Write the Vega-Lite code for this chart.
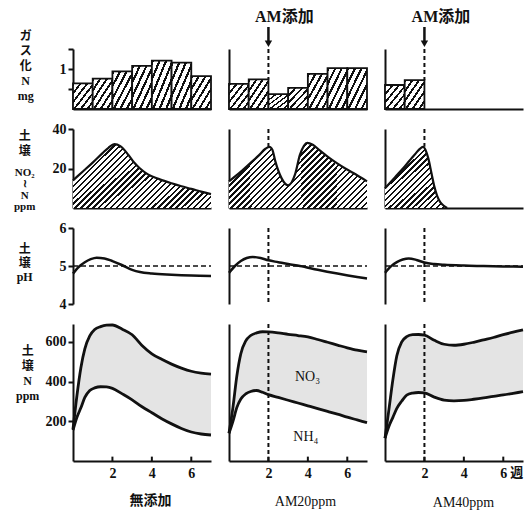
{
"$schema": "https://vega.github.io/schema/vega-lite/v6.json",
"background": "white",
"padding": {"left": 14, "top": 9, "right": 4, "bottom": 4},
"config": {
  "view": {"stroke": null},
  "axis": {"domainColor": "#111", "domainWidth": 2, "tickColor": "#111", "tickWidth": 2, "tickSize": 5, "labelColor": "#111", "labelFont": "Liberation Serif", "labelFontSize": 14, "labelFontWeight": "bold", "labelPadding": 2, "grid": false, "titleFont": "Liberation Serif, Noto Sans CJK JP", "titleColor": "#111"}
},
"datasets": {
  "gas": [
    {"c":1,"w0":0,"w1":1,"v":0.64},{"c":1,"w0":1,"w1":2,"v":0.76},{"c":1,"w0":2,"w1":3,"v":0.94},{"c":1,"w0":3,"w1":4,"v":1.08},{"c":1,"w0":4,"w1":5,"v":1.21},{"c":1,"w0":5,"w1":6,"v":1.16},{"c":1,"w0":6,"w1":7,"v":0.82},
    {"c":2,"w0":0,"w1":1,"v":0.63},{"c":2,"w0":1,"w1":2,"v":0.74},{"c":2,"w0":2,"w1":3,"v":0.37},{"c":2,"w0":3,"w1":4,"v":0.53},{"c":2,"w0":4,"w1":5,"v":0.88},{"c":2,"w0":5,"w1":6,"v":1.02},{"c":2,"w0":6,"w1":7,"v":1.02},
    {"c":3,"w0":0,"w1":1,"v":0.6},{"c":3,"w0":1,"w1":2,"v":0.72}
  ],
  "no2": [
    {"c":1,"wk":0,"v":14},{"c":1,"wk":0.5,"v":18.5},{"c":1,"wk":1,"v":23},{"c":1,"wk":1.5,"v":27.8},{"c":1,"wk":1.8,"v":30.5},{"c":1,"wk":2.1,"v":32.3},{"c":1,"wk":2.4,"v":31.3},{"c":1,"wk":2.8,"v":27},{"c":1,"wk":3.1,"v":23},{"c":1,"wk":3.4,"v":20},{"c":1,"wk":3.8,"v":17},{"c":1,"wk":4.4,"v":14.5},{"c":1,"wk":5,"v":12.5},{"c":1,"wk":5.5,"v":11},{"c":1,"wk":6,"v":9.7},{"c":1,"wk":6.5,"v":8.3},{"c":1,"wk":7,"v":7},
    {"c":2,"wk":0,"v":13.5},{"c":2,"wk":0.5,"v":17.5},{"c":2,"wk":1,"v":22},{"c":2,"wk":1.5,"v":26.5},{"c":2,"wk":1.85,"v":30},{"c":2,"wk":2.05,"v":31},{"c":2,"wk":2.2,"v":29.5},{"c":2,"wk":2.34,"v":24},{"c":2,"wk":2.67,"v":15},{"c":2,"wk":3.0,"v":11.5},{"c":2,"wk":3.35,"v":17},{"c":2,"wk":3.6,"v":27},{"c":2,"wk":3.8,"v":31.5},{"c":2,"wk":3.97,"v":33},{"c":2,"wk":4.25,"v":32},{"c":2,"wk":4.62,"v":29},{"c":2,"wk":5.0,"v":26},{"c":2,"wk":5.47,"v":22.7},{"c":2,"wk":5.9,"v":20},{"c":2,"wk":6.31,"v":17.7},{"c":2,"wk":7,"v":13.5},
    {"c":3,"wk":0,"v":10},{"c":3,"wk":0.5,"v":15.5},{"c":3,"wk":1,"v":21},{"c":3,"wk":1.5,"v":27},{"c":3,"wk":1.94,"v":31},{"c":3,"wk":2.05,"v":29.5},{"c":3,"wk":2.2,"v":25},{"c":3,"wk":2.35,"v":18},{"c":3,"wk":2.5,"v":11},{"c":3,"wk":2.65,"v":6},{"c":3,"wk":2.8,"v":3},{"c":3,"wk":3.0,"v":1},{"c":3,"wk":3.15,"v":0}
  ],
  "ph": [
    {"c":1,"wk":0,"v":4.8},{"c":1,"wk":0.3,"v":4.98},{"c":1,"wk":0.6,"v":5.1},{"c":1,"wk":0.9,"v":5.18},{"c":1,"wk":1.2,"v":5.22},{"c":1,"wk":1.6,"v":5.2},{"c":1,"wk":2,"v":5.13},{"c":1,"wk":2.5,"v":5.02},{"c":1,"wk":3,"v":4.9},{"c":1,"wk":3.4,"v":4.84},{"c":1,"wk":4,"v":4.8},{"c":1,"wk":5,"v":4.77},{"c":1,"wk":6,"v":4.75},{"c":1,"wk":7,"v":4.74},
    {"c":2,"wk":0,"v":4.82},{"c":2,"wk":0.3,"v":5.0},{"c":2,"wk":0.6,"v":5.13},{"c":2,"wk":0.9,"v":5.21},{"c":2,"wk":1.2,"v":5.24},{"c":2,"wk":1.6,"v":5.21},{"c":2,"wk":2,"v":5.15},{"c":2,"wk":2.5,"v":5.1},{"c":2,"wk":3,"v":5.05},{"c":2,"wk":3.6,"v":5.0},{"c":2,"wk":4.5,"v":4.9},{"c":2,"wk":5.5,"v":4.8},{"c":2,"wk":6.5,"v":4.71},{"c":2,"wk":7,"v":4.67},
    {"c":3,"wk":0,"v":4.82},{"c":3,"wk":0.3,"v":4.99},{"c":3,"wk":0.6,"v":5.1},{"c":3,"wk":0.9,"v":5.17},{"c":3,"wk":1.2,"v":5.2},{"c":3,"wk":1.6,"v":5.16},{"c":3,"wk":2,"v":5.09},{"c":3,"wk":2.5,"v":5.05},{"c":3,"wk":3,"v":5.03},{"c":3,"wk":4,"v":5.01},{"c":3,"wk":5,"v":5.0},{"c":3,"wk":6,"v":4.99},{"c":3,"wk":7,"v":4.98}
  ],
  "soil": [
    {"c":1,"wk":0,"up":160,"lo":155},{"c":1,"wk":0.2,"up":330,"lo":220},{"c":1,"wk":0.4,"up":470,"lo":268},{"c":1,"wk":0.6,"up":565,"lo":320},{"c":1,"wk":0.85,"up":630,"lo":355},{"c":1,"wk":1.1,"up":662,"lo":368},{"c":1,"wk":1.4,"up":677,"lo":374},{"c":1,"wk":1.7,"up":684,"lo":373},{"c":1,"wk":2,"up":685,"lo":366},{"c":1,"wk":2.5,"up":664,"lo":338},{"c":1,"wk":3,"up":636,"lo":308},{"c":1,"wk":3.5,"up":582,"lo":273},{"c":1,"wk":4,"up":540,"lo":243},{"c":1,"wk":4.5,"up":512,"lo":213},{"c":1,"wk":5,"up":488,"lo":187},{"c":1,"wk":5.5,"up":468,"lo":164},{"c":1,"wk":6,"up":452,"lo":146},{"c":1,"wk":6.5,"up":443,"lo":136},{"c":1,"wk":7,"up":438,"lo":131},
    {"c":2,"wk":0,"up":140,"lo":140},{"c":2,"wk":0.2,"up":270,"lo":200},{"c":2,"wk":0.4,"up":430,"lo":270},{"c":2,"wk":0.6,"up":540,"lo":312},{"c":2,"wk":0.85,"up":605,"lo":338},{"c":2,"wk":1.1,"up":632,"lo":350},{"c":2,"wk":1.4,"up":645,"lo":355},{"c":2,"wk":1.7,"up":651,"lo":346},{"c":2,"wk":2,"up":650,"lo":334},{"c":2,"wk":2.5,"up":645,"lo":320},{"c":2,"wk":3,"up":638,"lo":306},{"c":2,"wk":3.5,"up":632,"lo":292},{"c":2,"wk":4,"up":625,"lo":278},{"c":2,"wk":4.5,"up":612,"lo":264},{"c":2,"wk":5,"up":598,"lo":250},{"c":2,"wk":5.5,"up":584,"lo":236},{"c":2,"wk":6,"up":570,"lo":221},{"c":2,"wk":6.5,"up":558,"lo":207},{"c":2,"wk":7,"up":550,"lo":193},
    {"c":3,"wk":0,"up":115,"lo":115},{"c":3,"wk":0.2,"up":260,"lo":175},{"c":3,"wk":0.4,"up":410,"lo":220},{"c":3,"wk":0.6,"up":530,"lo":265},{"c":3,"wk":0.85,"up":600,"lo":302},{"c":3,"wk":1.1,"up":626,"lo":332},{"c":3,"wk":1.4,"up":636,"lo":342},{"c":3,"wk":1.7,"up":637,"lo":345},{"c":3,"wk":2,"up":634,"lo":343},{"c":3,"wk":2.5,"up":608,"lo":322},{"c":3,"wk":3,"up":588,"lo":307},{"c":3,"wk":3.5,"up":583,"lo":303},{"c":3,"wk":4,"up":588,"lo":305},{"c":3,"wk":4.5,"up":598,"lo":311},{"c":3,"wk":5,"up":610,"lo":318},{"c":3,"wk":5.5,"up":622,"lo":326},{"c":3,"wk":6,"up":636,"lo":333},{"c":3,"wk":6.5,"up":649,"lo":341},{"c":3,"wk":7,"up":660,"lo":349}
  ],
  "xticks": [{"t": 2}, {"t": 4}, {"t": 6}]
},
"columns": 3,
"spacing": {"row": 20, "column": 18},
"bounds": "flush",
"align": "each",
"concat": [
{"width": 138, "height": 60, "layer": [
  {"data": {"name": "gas"}, "transform": [{"filter": "datum.c == 1"}],
   "mark": {"type": "bar", "stroke": "#111", "strokeWidth": 1.8, "fill": {"gradient": "linear", "x1": 0, "y1": 0, "x2": 1, "y2": 1, "stops": [{"offset":0,"color":"#111"},{"offset":0.058,"color":"#111"},{"offset":0.058,"color":"#fff"},{"offset":0.1667,"color":"#fff"},{"offset":0.1667,"color":"#111"},{"offset":0.225,"color":"#111"},{"offset":0.225,"color":"#fff"},{"offset":0.3333,"color":"#fff"},{"offset":0.3333,"color":"#111"},{"offset":0.3917,"color":"#111"},{"offset":0.3917,"color":"#fff"},{"offset":0.5,"color":"#fff"},{"offset":0.5,"color":"#111"},{"offset":0.5583,"color":"#111"},{"offset":0.5583,"color":"#fff"},{"offset":0.6667,"color":"#fff"},{"offset":0.6667,"color":"#111"},{"offset":0.725,"color":"#111"},{"offset":0.725,"color":"#fff"},{"offset":0.8333,"color":"#fff"},{"offset":0.8333,"color":"#111"},{"offset":0.8917,"color":"#111"},{"offset":0.8917,"color":"#fff"},{"offset":1,"color":"#fff"}]}},
   "encoding": {
     "x": {"field": "w0", "type": "quantitative", "scale": {"domain": [0, 7], "nice": false, "zero": false}, "axis": {"labels": false, "ticks": false, "title": null}},
     "x2": {"field": "w1"},
     "y": {"field": "v", "type": "quantitative", "scale": {"domain": [0, 1.5], "nice": false}, "axis": {"values": [0.5, 1, 1.5], "tickCount": 10, "labelExpr": "datum.value == 1 ? '1' : ''", "labelOverlap": false, "title": null}},
     "y2": {"datum": 0}}},
  {"data": {"values": [{}]}, "mark": {"type": "text", "text": ["ガ", "ス", "化", "N", "mg"], "lineHeight": 15, "align": "center", "baseline": "top", "fontSize": 12, "fontWeight": "bold", "font": "Liberation Serif, Noto Sans CJK JP", "color": "#111"},
   "encoding": {"x": {"datum": -2.4}, "y": {"datum": 1.95}}}
]},
{"width": 138, "height": 60, "layer": [
  {"data": {"name": "gas"}, "transform": [{"filter": "datum.c == 2"}],
   "mark": {"type": "bar", "stroke": "#111", "strokeWidth": 1.8, "fill": {"gradient": "linear", "x1": 0, "y1": 0, "x2": 1, "y2": 1, "stops": [{"offset":0,"color":"#111"},{"offset":0.058,"color":"#111"},{"offset":0.058,"color":"#fff"},{"offset":0.1667,"color":"#fff"},{"offset":0.1667,"color":"#111"},{"offset":0.225,"color":"#111"},{"offset":0.225,"color":"#fff"},{"offset":0.3333,"color":"#fff"},{"offset":0.3333,"color":"#111"},{"offset":0.3917,"color":"#111"},{"offset":0.3917,"color":"#fff"},{"offset":0.5,"color":"#fff"},{"offset":0.5,"color":"#111"},{"offset":0.5583,"color":"#111"},{"offset":0.5583,"color":"#fff"},{"offset":0.6667,"color":"#fff"},{"offset":0.6667,"color":"#111"},{"offset":0.725,"color":"#111"},{"offset":0.725,"color":"#fff"},{"offset":0.8333,"color":"#fff"},{"offset":0.8333,"color":"#111"},{"offset":0.8917,"color":"#111"},{"offset":0.8917,"color":"#fff"},{"offset":1,"color":"#fff"}]}},
   "encoding": {
     "x": {"field": "w0", "type": "quantitative", "scale": {"domain": [0, 7], "nice": false, "zero": false}, "axis": {"labels": false, "ticks": false, "title": null}},
     "x2": {"field": "w1"},
     "y": {"field": "v", "type": "quantitative", "scale": {"domain": [0, 1.5], "nice": false}, "axis": {"labels": false, "ticks": false, "title": null}},
     "y2": {"datum": 0}}},
  {"data": {"values": [{}]}, "mark": {"type": "rule", "strokeDash": [4, 3], "strokeWidth": 2, "color": "#111"},
   "encoding": {"x": {"datum": 2}, "y": {"datum": 1.5}, "y2": {"datum": 0.74}}},
  {"data": {"values": [{}]}, "mark": {"type": "rule", "strokeWidth": 2.5, "color": "#111"},
   "encoding": {"x": {"datum": 2}, "y": {"datum": 2.05}, "y2": {"datum": 1.7}}},
  {"data": {"values": [{}]}, "mark": {"type": "point", "shape": "triangle-down", "filled": true, "size": 55, "color": "#111", "opacity": 1},
   "encoding": {"x": {"datum": 2}, "y": {"datum": 1.63}}},
  {"data": {"values": [{}]}, "mark": {"type": "text", "text": "AM添加", "align": "left", "baseline": "middle", "fontSize": 16, "fontWeight": "bold", "font": "Liberation Serif, Noto Sans CJK JP", "color": "#111"},
   "encoding": {"x": {"datum": 1.32}, "y": {"datum": 2.3}}}
]},
{"width": 138, "height": 60, "layer": [
  {"data": {"name": "gas"}, "transform": [{"filter": "datum.c == 3"}],
   "mark": {"type": "bar", "stroke": "#111", "strokeWidth": 1.8, "fill": {"gradient": "linear", "x1": 0, "y1": 0, "x2": 1, "y2": 1, "stops": [{"offset":0,"color":"#111"},{"offset":0.058,"color":"#111"},{"offset":0.058,"color":"#fff"},{"offset":0.1667,"color":"#fff"},{"offset":0.1667,"color":"#111"},{"offset":0.225,"color":"#111"},{"offset":0.225,"color":"#fff"},{"offset":0.3333,"color":"#fff"},{"offset":0.3333,"color":"#111"},{"offset":0.3917,"color":"#111"},{"offset":0.3917,"color":"#fff"},{"offset":0.5,"color":"#fff"},{"offset":0.5,"color":"#111"},{"offset":0.5583,"color":"#111"},{"offset":0.5583,"color":"#fff"},{"offset":0.6667,"color":"#fff"},{"offset":0.6667,"color":"#111"},{"offset":0.725,"color":"#111"},{"offset":0.725,"color":"#fff"},{"offset":0.8333,"color":"#fff"},{"offset":0.8333,"color":"#111"},{"offset":0.8917,"color":"#111"},{"offset":0.8917,"color":"#fff"},{"offset":1,"color":"#fff"}]}},
   "encoding": {
     "x": {"field": "w0", "type": "quantitative", "scale": {"domain": [0, 7], "nice": false, "zero": false}, "axis": {"labels": false, "ticks": false, "title": null}},
     "x2": {"field": "w1"},
     "y": {"field": "v", "type": "quantitative", "scale": {"domain": [0, 1.5], "nice": false}, "axis": {"labels": false, "ticks": false, "title": null}},
     "y2": {"datum": 0}}},
  {"data": {"values": [{}]}, "mark": {"type": "rule", "strokeDash": [4, 3], "strokeWidth": 2, "color": "#111"},
   "encoding": {"x": {"datum": 2}, "y": {"datum": 1.5}, "y2": {"datum": 0.72}}},
  {"data": {"values": [{}]}, "mark": {"type": "rule", "strokeWidth": 2.5, "color": "#111"},
   "encoding": {"x": {"datum": 2}, "y": {"datum": 2.05}, "y2": {"datum": 1.7}}},
  {"data": {"values": [{}]}, "mark": {"type": "point", "shape": "triangle-down", "filled": true, "size": 55, "color": "#111", "opacity": 1},
   "encoding": {"x": {"datum": 2}, "y": {"datum": 1.63}}},
  {"data": {"values": [{}]}, "mark": {"type": "text", "text": "AM添加", "align": "left", "baseline": "middle", "fontSize": 16, "fontWeight": "bold", "font": "Liberation Serif, Noto Sans CJK JP", "color": "#111"},
   "encoding": {"x": {"datum": 1.35}, "y": {"datum": 2.3}}}
]},
{"width": 138, "height": 79, "layer": [
  {"data": {"name": "no2"}, "transform": [{"filter": "datum.c == 1"}],
   "mark": {"type": "area", "interpolate": "monotone", "fill": {"gradient": "linear", "x1": 0, "y1": 0, "x2": 1.2, "y2": 0.56, "stops": [{"offset":0,"color":"#111"},{"offset":0.0118,"color":"#111"},{"offset":0.0118,"color":"#fff"},{"offset":0.0294,"color":"#fff"},{"offset":0.0294,"color":"#111"},{"offset":0.0412,"color":"#111"},{"offset":0.0412,"color":"#fff"},{"offset":0.0588,"color":"#fff"},{"offset":0.0588,"color":"#111"},{"offset":0.0706,"color":"#111"},{"offset":0.0706,"color":"#fff"},{"offset":0.0882,"color":"#fff"},{"offset":0.0882,"color":"#111"},{"offset":0.1,"color":"#111"},{"offset":0.1,"color":"#fff"},{"offset":0.1176,"color":"#fff"},{"offset":0.1176,"color":"#111"},{"offset":0.1294,"color":"#111"},{"offset":0.1294,"color":"#fff"},{"offset":0.1471,"color":"#fff"},{"offset":0.1471,"color":"#111"},{"offset":0.1589,"color":"#111"},{"offset":0.1589,"color":"#fff"},{"offset":0.1765,"color":"#fff"},{"offset":0.1765,"color":"#111"},{"offset":0.1883,"color":"#111"},{"offset":0.1883,"color":"#fff"},{"offset":0.2059,"color":"#fff"},{"offset":0.2059,"color":"#111"},{"offset":0.2177,"color":"#111"},{"offset":0.2177,"color":"#fff"},{"offset":0.2353,"color":"#fff"},{"offset":0.2353,"color":"#111"},{"offset":0.2471,"color":"#111"},{"offset":0.2471,"color":"#fff"},{"offset":0.2647,"color":"#fff"},{"offset":0.2647,"color":"#111"},{"offset":0.2765,"color":"#111"},{"offset":0.2765,"color":"#fff"},{"offset":0.2941,"color":"#fff"},{"offset":0.2941,"color":"#111"},{"offset":0.3059,"color":"#111"},{"offset":0.3059,"color":"#fff"},{"offset":0.3235,"color":"#fff"},{"offset":0.3235,"color":"#111"},{"offset":0.3353,"color":"#111"},{"offset":0.3353,"color":"#fff"},{"offset":0.3529,"color":"#fff"},{"offset":0.3529,"color":"#111"},{"offset":0.3647,"color":"#111"},{"offset":0.3647,"color":"#fff"},{"offset":0.3824,"color":"#fff"},{"offset":0.3824,"color":"#111"},{"offset":0.3942,"color":"#111"},{"offset":0.3942,"color":"#fff"},{"offset":0.4118,"color":"#fff"},{"offset":0.4118,"color":"#111"},{"offset":0.4236,"color":"#111"},{"offset":0.4236,"color":"#fff"},{"offset":0.4412,"color":"#fff"},{"offset":0.4412,"color":"#111"},{"offset":0.453,"color":"#111"},{"offset":0.453,"color":"#fff"},{"offset":0.4706,"color":"#fff"},{"offset":0.4706,"color":"#111"},{"offset":0.4824,"color":"#111"},{"offset":0.4824,"color":"#fff"},{"offset":0.5,"color":"#fff"},{"offset":0.5,"color":"#111"},{"offset":0.5118,"color":"#111"},{"offset":0.5118,"color":"#fff"},{"offset":0.5294,"color":"#fff"},{"offset":0.5294,"color":"#111"},{"offset":0.5412,"color":"#111"},{"offset":0.5412,"color":"#fff"},{"offset":0.5588,"color":"#fff"},{"offset":0.5588,"color":"#111"},{"offset":0.5706,"color":"#111"},{"offset":0.5706,"color":"#fff"},{"offset":0.5882,"color":"#fff"},{"offset":0.5882,"color":"#111"},{"offset":0.6,"color":"#111"},{"offset":0.6,"color":"#fff"},{"offset":0.6176,"color":"#fff"},{"offset":0.6176,"color":"#111"},{"offset":0.6294,"color":"#111"},{"offset":0.6294,"color":"#fff"},{"offset":0.6471,"color":"#fff"},{"offset":0.6471,"color":"#111"},{"offset":0.6589,"color":"#111"},{"offset":0.6589,"color":"#fff"},{"offset":0.6765,"color":"#fff"},{"offset":0.6765,"color":"#111"},{"offset":0.6883,"color":"#111"},{"offset":0.6883,"color":"#fff"},{"offset":0.7059,"color":"#fff"},{"offset":0.7059,"color":"#111"},{"offset":0.7177,"color":"#111"},{"offset":0.7177,"color":"#fff"},{"offset":0.7353,"color":"#fff"},{"offset":0.7353,"color":"#111"},{"offset":0.7471,"color":"#111"},{"offset":0.7471,"color":"#fff"},{"offset":0.7647,"color":"#fff"},{"offset":0.7647,"color":"#111"},{"offset":0.7765,"color":"#111"},{"offset":0.7765,"color":"#fff"},{"offset":0.7941,"color":"#fff"},{"offset":0.7941,"color":"#111"},{"offset":0.8059,"color":"#111"},{"offset":0.8059,"color":"#fff"},{"offset":0.8235,"color":"#fff"},{"offset":0.8235,"color":"#111"},{"offset":0.8353,"color":"#111"},{"offset":0.8353,"color":"#fff"},{"offset":0.8529,"color":"#fff"},{"offset":0.8529,"color":"#111"},{"offset":0.8647,"color":"#111"},{"offset":0.8647,"color":"#fff"},{"offset":0.8824,"color":"#fff"},{"offset":0.8824,"color":"#111"},{"offset":0.8942,"color":"#111"},{"offset":0.8942,"color":"#fff"},{"offset":0.9118,"color":"#fff"},{"offset":0.9118,"color":"#111"},{"offset":0.9236,"color":"#111"},{"offset":0.9236,"color":"#fff"},{"offset":0.9412,"color":"#fff"},{"offset":0.9412,"color":"#111"},{"offset":0.953,"color":"#111"},{"offset":0.953,"color":"#fff"},{"offset":0.9706,"color":"#fff"},{"offset":0.9706,"color":"#111"},{"offset":0.9824,"color":"#111"},{"offset":0.9824,"color":"#fff"},{"offset":1,"color":"#fff"}]}},
   "encoding": {
     "x": {"field": "wk", "type": "quantitative", "scale": {"domain": [0, 7], "nice": false, "zero": false}, "axis": {"labels": false, "ticks": false, "title": null}},
     "y": {"field": "v", "type": "quantitative", "scale": {"domain": [0, 40], "nice": false}, "axis": {"values": [20, 40], "format": "d", "labelOverlap": false, "title": null}}}},
  {"data": {"name": "no2"}, "transform": [{"filter": "datum.c == 1"}],
   "mark": {"type": "line", "interpolate": "monotone", "color": "#111", "strokeWidth": 2.2},
   "encoding": {"x": {"field": "wk", "type": "quantitative"}, "y": {"field": "v", "type": "quantitative"}}},
  {"data": {"values": [{}]}, "mark": {"type": "text", "text": ["土", "壌"], "lineHeight": 15, "align": "center", "baseline": "top", "fontSize": 12, "fontWeight": "bold", "font": "Liberation Serif, Noto Sans CJK JP", "color": "#111"},
   "encoding": {"x": {"datum": -2.45}, "y": {"datum": 39}}},
  {"data": {"values": [{}]}, "mark": {"type": "text", "text": ["NO₂", "≀", "N", "ppm"], "lineHeight": 11.5, "align": "center", "baseline": "top", "fontSize": 11, "fontWeight": "bold", "font": "Liberation Serif, Noto Sans CJK JP", "color": "#111"},
   "encoding": {"x": {"datum": -2.45}, "y": {"datum": 21}}}
]},
{"width": 138, "height": 79, "layer": [
  {"data": {"name": "no2"}, "transform": [{"filter": "datum.c == 2"}],
   "mark": {"type": "area", "interpolate": "monotone", "fill": {"gradient": "linear", "x1": 0, "y1": 0, "x2": 1.2, "y2": 0.56, "stops": [{"offset":0,"color":"#111"},{"offset":0.0118,"color":"#111"},{"offset":0.0118,"color":"#fff"},{"offset":0.0294,"color":"#fff"},{"offset":0.0294,"color":"#111"},{"offset":0.0412,"color":"#111"},{"offset":0.0412,"color":"#fff"},{"offset":0.0588,"color":"#fff"},{"offset":0.0588,"color":"#111"},{"offset":0.0706,"color":"#111"},{"offset":0.0706,"color":"#fff"},{"offset":0.0882,"color":"#fff"},{"offset":0.0882,"color":"#111"},{"offset":0.1,"color":"#111"},{"offset":0.1,"color":"#fff"},{"offset":0.1176,"color":"#fff"},{"offset":0.1176,"color":"#111"},{"offset":0.1294,"color":"#111"},{"offset":0.1294,"color":"#fff"},{"offset":0.1471,"color":"#fff"},{"offset":0.1471,"color":"#111"},{"offset":0.1589,"color":"#111"},{"offset":0.1589,"color":"#fff"},{"offset":0.1765,"color":"#fff"},{"offset":0.1765,"color":"#111"},{"offset":0.1883,"color":"#111"},{"offset":0.1883,"color":"#fff"},{"offset":0.2059,"color":"#fff"},{"offset":0.2059,"color":"#111"},{"offset":0.2177,"color":"#111"},{"offset":0.2177,"color":"#fff"},{"offset":0.2353,"color":"#fff"},{"offset":0.2353,"color":"#111"},{"offset":0.2471,"color":"#111"},{"offset":0.2471,"color":"#fff"},{"offset":0.2647,"color":"#fff"},{"offset":0.2647,"color":"#111"},{"offset":0.2765,"color":"#111"},{"offset":0.2765,"color":"#fff"},{"offset":0.2941,"color":"#fff"},{"offset":0.2941,"color":"#111"},{"offset":0.3059,"color":"#111"},{"offset":0.3059,"color":"#fff"},{"offset":0.3235,"color":"#fff"},{"offset":0.3235,"color":"#111"},{"offset":0.3353,"color":"#111"},{"offset":0.3353,"color":"#fff"},{"offset":0.3529,"color":"#fff"},{"offset":0.3529,"color":"#111"},{"offset":0.3647,"color":"#111"},{"offset":0.3647,"color":"#fff"},{"offset":0.3824,"color":"#fff"},{"offset":0.3824,"color":"#111"},{"offset":0.3942,"color":"#111"},{"offset":0.3942,"color":"#fff"},{"offset":0.4118,"color":"#fff"},{"offset":0.4118,"color":"#111"},{"offset":0.4236,"color":"#111"},{"offset":0.4236,"color":"#fff"},{"offset":0.4412,"color":"#fff"},{"offset":0.4412,"color":"#111"},{"offset":0.453,"color":"#111"},{"offset":0.453,"color":"#fff"},{"offset":0.4706,"color":"#fff"},{"offset":0.4706,"color":"#111"},{"offset":0.4824,"color":"#111"},{"offset":0.4824,"color":"#fff"},{"offset":0.5,"color":"#fff"},{"offset":0.5,"color":"#111"},{"offset":0.5118,"color":"#111"},{"offset":0.5118,"color":"#fff"},{"offset":0.5294,"color":"#fff"},{"offset":0.5294,"color":"#111"},{"offset":0.5412,"color":"#111"},{"offset":0.5412,"color":"#fff"},{"offset":0.5588,"color":"#fff"},{"offset":0.5588,"color":"#111"},{"offset":0.5706,"color":"#111"},{"offset":0.5706,"color":"#fff"},{"offset":0.5882,"color":"#fff"},{"offset":0.5882,"color":"#111"},{"offset":0.6,"color":"#111"},{"offset":0.6,"color":"#fff"},{"offset":0.6176,"color":"#fff"},{"offset":0.6176,"color":"#111"},{"offset":0.6294,"color":"#111"},{"offset":0.6294,"color":"#fff"},{"offset":0.6471,"color":"#fff"},{"offset":0.6471,"color":"#111"},{"offset":0.6589,"color":"#111"},{"offset":0.6589,"color":"#fff"},{"offset":0.6765,"color":"#fff"},{"offset":0.6765,"color":"#111"},{"offset":0.6883,"color":"#111"},{"offset":0.6883,"color":"#fff"},{"offset":0.7059,"color":"#fff"},{"offset":0.7059,"color":"#111"},{"offset":0.7177,"color":"#111"},{"offset":0.7177,"color":"#fff"},{"offset":0.7353,"color":"#fff"},{"offset":0.7353,"color":"#111"},{"offset":0.7471,"color":"#111"},{"offset":0.7471,"color":"#fff"},{"offset":0.7647,"color":"#fff"},{"offset":0.7647,"color":"#111"},{"offset":0.7765,"color":"#111"},{"offset":0.7765,"color":"#fff"},{"offset":0.7941,"color":"#fff"},{"offset":0.7941,"color":"#111"},{"offset":0.8059,"color":"#111"},{"offset":0.8059,"color":"#fff"},{"offset":0.8235,"color":"#fff"},{"offset":0.8235,"color":"#111"},{"offset":0.8353,"color":"#111"},{"offset":0.8353,"color":"#fff"},{"offset":0.8529,"color":"#fff"},{"offset":0.8529,"color":"#111"},{"offset":0.8647,"color":"#111"},{"offset":0.8647,"color":"#fff"},{"offset":0.8824,"color":"#fff"},{"offset":0.8824,"color":"#111"},{"offset":0.8942,"color":"#111"},{"offset":0.8942,"color":"#fff"},{"offset":0.9118,"color":"#fff"},{"offset":0.9118,"color":"#111"},{"offset":0.9236,"color":"#111"},{"offset":0.9236,"color":"#fff"},{"offset":0.9412,"color":"#fff"},{"offset":0.9412,"color":"#111"},{"offset":0.953,"color":"#111"},{"offset":0.953,"color":"#fff"},{"offset":0.9706,"color":"#fff"},{"offset":0.9706,"color":"#111"},{"offset":0.9824,"color":"#111"},{"offset":0.9824,"color":"#fff"},{"offset":1,"color":"#fff"}]}},
   "encoding": {
     "x": {"field": "wk", "type": "quantitative", "scale": {"domain": [0, 7], "nice": false, "zero": false}, "axis": {"labels": false, "ticks": false, "title": null}},
     "y": {"field": "v", "type": "quantitative", "scale": {"domain": [0, 40], "nice": false}, "axis": {"labels": false, "ticks": false, "title": null}}}},
  {"data": {"name": "no2"}, "transform": [{"filter": "datum.c == 2"}],
   "mark": {"type": "line", "interpolate": "monotone", "color": "#111", "strokeWidth": 2.2},
   "encoding": {"x": {"field": "wk", "type": "quantitative"}, "y": {"field": "v", "type": "quantitative"}}},
  {"data": {"values": [{}]}, "mark": {"type": "rule", "strokeDash": [4, 3], "strokeWidth": 2, "color": "#111"},
   "encoding": {"x": {"datum": 2}, "y": {"datum": 40}, "y2": {"datum": 31}}}
]},
{"width": 138, "height": 79, "layer": [
  {"data": {"name": "no2"}, "transform": [{"filter": "datum.c == 3"}],
   "mark": {"type": "area", "interpolate": "monotone", "fill": {"gradient": "linear", "x1": 0, "y1": 0, "x2": 1, "y2": 1, "stops": [{"offset":0,"color":"#111"},{"offset":0.019,"color":"#111"},{"offset":0.019,"color":"#fff"},{"offset":0.0476,"color":"#fff"},{"offset":0.0476,"color":"#111"},{"offset":0.0666,"color":"#111"},{"offset":0.0666,"color":"#fff"},{"offset":0.0952,"color":"#fff"},{"offset":0.0952,"color":"#111"},{"offset":0.1142,"color":"#111"},{"offset":0.1142,"color":"#fff"},{"offset":0.1429,"color":"#fff"},{"offset":0.1429,"color":"#111"},{"offset":0.1619,"color":"#111"},{"offset":0.1619,"color":"#fff"},{"offset":0.1905,"color":"#fff"},{"offset":0.1905,"color":"#111"},{"offset":0.2095,"color":"#111"},{"offset":0.2095,"color":"#fff"},{"offset":0.2381,"color":"#fff"},{"offset":0.2381,"color":"#111"},{"offset":0.2571,"color":"#111"},{"offset":0.2571,"color":"#fff"},{"offset":0.2857,"color":"#fff"},{"offset":0.2857,"color":"#111"},{"offset":0.3047,"color":"#111"},{"offset":0.3047,"color":"#fff"},{"offset":0.3333,"color":"#fff"},{"offset":0.3333,"color":"#111"},{"offset":0.3523,"color":"#111"},{"offset":0.3523,"color":"#fff"},{"offset":0.381,"color":"#fff"},{"offset":0.381,"color":"#111"},{"offset":0.4,"color":"#111"},{"offset":0.4,"color":"#fff"},{"offset":0.4286,"color":"#fff"},{"offset":0.4286,"color":"#111"},{"offset":0.4476,"color":"#111"},{"offset":0.4476,"color":"#fff"},{"offset":0.4762,"color":"#fff"},{"offset":0.4762,"color":"#111"},{"offset":0.4952,"color":"#111"},{"offset":0.4952,"color":"#fff"},{"offset":0.5238,"color":"#fff"},{"offset":0.5238,"color":"#111"},{"offset":0.5428,"color":"#111"},{"offset":0.5428,"color":"#fff"},{"offset":0.5714,"color":"#fff"},{"offset":0.5714,"color":"#111"},{"offset":0.5904,"color":"#111"},{"offset":0.5904,"color":"#fff"},{"offset":0.619,"color":"#fff"},{"offset":0.619,"color":"#111"},{"offset":0.638,"color":"#111"},{"offset":0.638,"color":"#fff"},{"offset":0.6667,"color":"#fff"},{"offset":0.6667,"color":"#111"},{"offset":0.6857,"color":"#111"},{"offset":0.6857,"color":"#fff"},{"offset":0.7143,"color":"#fff"},{"offset":0.7143,"color":"#111"},{"offset":0.7333,"color":"#111"},{"offset":0.7333,"color":"#fff"},{"offset":0.7619,"color":"#fff"},{"offset":0.7619,"color":"#111"},{"offset":0.7809,"color":"#111"},{"offset":0.7809,"color":"#fff"},{"offset":0.8095,"color":"#fff"},{"offset":0.8095,"color":"#111"},{"offset":0.8285,"color":"#111"},{"offset":0.8285,"color":"#fff"},{"offset":0.8571,"color":"#fff"},{"offset":0.8571,"color":"#111"},{"offset":0.8761,"color":"#111"},{"offset":0.8761,"color":"#fff"},{"offset":0.9048,"color":"#fff"},{"offset":0.9048,"color":"#111"},{"offset":0.9238,"color":"#111"},{"offset":0.9238,"color":"#fff"},{"offset":0.9524,"color":"#fff"},{"offset":0.9524,"color":"#111"},{"offset":0.9714,"color":"#111"},{"offset":0.9714,"color":"#fff"},{"offset":1,"color":"#fff"}]}},
   "encoding": {
     "x": {"field": "wk", "type": "quantitative", "scale": {"domain": [0, 7], "nice": false, "zero": false}, "axis": {"labels": false, "ticks": false, "title": null}},
     "y": {"field": "v", "type": "quantitative", "scale": {"domain": [0, 40], "nice": false}, "axis": {"labels": false, "ticks": false, "title": null}}}},
  {"data": {"name": "no2"}, "transform": [{"filter": "datum.c == 3"}],
   "mark": {"type": "line", "interpolate": "monotone", "color": "#111", "strokeWidth": 2.2},
   "encoding": {"x": {"field": "wk", "type": "quantitative"}, "y": {"field": "v", "type": "quantitative"}}},
  {"data": {"values": [{}]}, "mark": {"type": "rule", "strokeDash": [4, 3], "strokeWidth": 2, "color": "#111"},
   "encoding": {"x": {"datum": 2}, "y": {"datum": 40}, "y2": {"datum": 31}}}
]},
{"width": 138, "height": 76, "layer": [
  {"data": {"name": "ph"}, "transform": [{"filter": "datum.c == 1"}],
   "mark": {"type": "line", "interpolate": "monotone", "color": "#111", "strokeWidth": 2.5},
   "encoding": {
     "x": {"field": "wk", "type": "quantitative", "scale": {"domain": [0, 7], "nice": false, "zero": false}, "axis": null},
     "y": {"field": "v", "type": "quantitative", "scale": {"domain": [4, 6], "nice": false, "zero": false}, "axis": {"values": [4, 5, 6], "tickCount": 10, "labelExpr": "'' + round(datum.value)", "labelOverlap": false, "title": null}}}},
  {"data": {"values": [{}]}, "mark": {"type": "rule", "strokeDash": [5, 3], "strokeWidth": 1.5, "color": "#111"},
   "encoding": {"x": {"datum": 0}, "x2": {"datum": 7}, "y": {"datum": 5}}},
  {"data": {"values": [{}]}, "mark": {"type": "text", "text": ["土", "壌", "pH"], "lineHeight": 14, "align": "center", "baseline": "top", "fontSize": 12, "fontWeight": "bold", "font": "Liberation Serif, Noto Sans CJK JP", "color": "#111"},
   "encoding": {"x": {"datum": -2.45}, "y": {"datum": 5.58}}}
]},
{"width": 138, "height": 76, "layer": [
  {"data": {"name": "ph"}, "transform": [{"filter": "datum.c == 2"}],
   "mark": {"type": "line", "interpolate": "monotone", "color": "#111", "strokeWidth": 2.5},
   "encoding": {
     "x": {"field": "wk", "type": "quantitative", "scale": {"domain": [0, 7], "nice": false, "zero": false}, "axis": null},
     "y": {"field": "v", "type": "quantitative", "scale": {"domain": [4, 6], "nice": false, "zero": false}, "axis": {"labels": false, "ticks": false, "title": null}}}},
  {"data": {"values": [{}]}, "mark": {"type": "rule", "strokeDash": [5, 3], "strokeWidth": 1.5, "color": "#111"},
   "encoding": {"x": {"datum": 0}, "x2": {"datum": 7}, "y": {"datum": 5}}},
  {"data": {"values": [{}]}, "mark": {"type": "rule", "strokeDash": [4, 3], "strokeWidth": 2, "color": "#111"},
   "encoding": {"x": {"datum": 2}, "y": {"datum": 6}, "y2": {"datum": 4}}}
]},
{"width": 138, "height": 76, "layer": [
  {"data": {"name": "ph"}, "transform": [{"filter": "datum.c == 3"}],
   "mark": {"type": "line", "interpolate": "monotone", "color": "#111", "strokeWidth": 2.5},
   "encoding": {
     "x": {"field": "wk", "type": "quantitative", "scale": {"domain": [0, 7], "nice": false, "zero": false}, "axis": null},
     "y": {"field": "v", "type": "quantitative", "scale": {"domain": [4, 6], "nice": false, "zero": false}, "axis": {"labels": false, "ticks": false, "title": null}}}},
  {"data": {"values": [{}]}, "mark": {"type": "rule", "strokeDash": [5, 3], "strokeWidth": 1.5, "color": "#111"},
   "encoding": {"x": {"datum": 0}, "x2": {"datum": 7}, "y": {"datum": 5}}},
  {"data": {"values": [{}]}, "mark": {"type": "rule", "strokeDash": [4, 3], "strokeWidth": 2, "color": "#111"},
   "encoding": {"x": {"datum": 2}, "y": {"datum": 6}, "y2": {"datum": 4}}}
]},
{"width": 138, "height": 137, "layer": [
  {"data": {"name": "soil"}, "transform": [{"filter": "datum.c == 1"}],
   "mark": {"type": "area", "interpolate": "monotone", "color": "#e4e4e4"},
   "encoding": {
     "x": {"field": "wk", "type": "quantitative", "scale": {"domain": [0, 7], "nice": false, "zero": false}, "axis": {"values": [2, 4, 6], "format": "d", "ticks": false, "labelPadding": 5, "labelBaseline": "top", "title": "無添加", "titleFontSize": 14, "titleFontWeight": "bold", "titleX": 77, "titleY": 39, "titleAlign": "center", "titleBaseline": "middle"}},
     "y": {"field": "lo", "type": "quantitative", "scale": {"domain": [0, 690], "nice": false}, "axis": {"values": [200, 400, 600], "tickCount": 10, "format": "d", "labelOverlap": false, "title": null}},
     "y2": {"field": "up"}}},
  {"data": {"name": "xticks"}, "mark": {"type": "rule", "strokeWidth": 2, "color": "#111"},
   "encoding": {"x": {"field": "t", "type": "quantitative"}, "y": {"datum": 0}, "y2": {"datum": 22}}},
  {"data": {"name": "soil"}, "transform": [{"filter": "datum.c == 1"}],
   "mark": {"type": "line", "interpolate": "monotone", "color": "#111", "strokeWidth": 2.8},
   "encoding": {"x": {"field": "wk", "type": "quantitative"}, "y": {"field": "up", "type": "quantitative"}}},
  {"data": {"name": "soil"}, "transform": [{"filter": "datum.c == 1"}],
   "mark": {"type": "line", "interpolate": "monotone", "color": "#111", "strokeWidth": 2.8},
   "encoding": {"x": {"field": "wk", "type": "quantitative"}, "y": {"field": "lo", "type": "quantitative"}}},
  {"data": {"values": [{}]}, "mark": {"type": "text", "text": ["土", "壌", "N", "ppm"], "lineHeight": 15, "align": "center", "baseline": "top", "fontSize": 12, "fontWeight": "bold", "font": "Liberation Serif, Noto Sans CJK JP", "color": "#111"},
   "encoding": {"x": {"datum": -2.3}, "y": {"datum": 579}}}
]},
{"width": 138, "height": 137, "layer": [
  {"data": {"name": "soil"}, "transform": [{"filter": "datum.c == 2"}],
   "mark": {"type": "area", "interpolate": "monotone", "color": "#e4e4e4"},
   "encoding": {
     "x": {"field": "wk", "type": "quantitative", "scale": {"domain": [0, 7], "nice": false, "zero": false}, "axis": {"values": [2, 4, 6], "format": "d", "ticks": false, "labelPadding": 5, "labelBaseline": "top", "title": "AM20ppm", "titleFontSize": 14, "titleFontWeight": "normal", "titleX": 76, "titleY": 40, "titleAlign": "center", "titleBaseline": "middle"}},
     "y": {"field": "lo", "type": "quantitative", "scale": {"domain": [0, 690], "nice": false}, "axis": {"labels": false, "ticks": false, "title": null}},
     "y2": {"field": "up"}}},
  {"data": {"name": "xticks"}, "mark": {"type": "rule", "strokeWidth": 2, "color": "#111"},
   "encoding": {"x": {"field": "t", "type": "quantitative"}, "y": {"datum": 0}, "y2": {"datum": 22}}},
  {"data": {"values": [{}]}, "mark": {"type": "rule", "strokeDash": [4, 3], "strokeWidth": 2, "color": "#111"},
   "encoding": {"x": {"datum": 2}, "y": {"datum": 690}, "y2": {"datum": 0}}},
  {"data": {"name": "soil"}, "transform": [{"filter": "datum.c == 2"}],
   "mark": {"type": "line", "interpolate": "monotone", "color": "#111", "strokeWidth": 2.8},
   "encoding": {"x": {"field": "wk", "type": "quantitative"}, "y": {"field": "up", "type": "quantitative"}}},
  {"data": {"name": "soil"}, "transform": [{"filter": "datum.c == 2"}],
   "mark": {"type": "line", "interpolate": "monotone", "color": "#111", "strokeWidth": 2.8},
   "encoding": {"x": {"field": "wk", "type": "quantitative"}, "y": {"field": "lo", "type": "quantitative"}}},
  {"data": {"values": [{}]}, "mark": {"type": "text", "text": "NO₃", "align": "center", "baseline": "middle", "fontSize": 14, "font": "Liberation Serif, Noto Sans CJK JP", "color": "#111"},
   "encoding": {"x": {"datum": 3.98}, "y": {"datum": 424}}},
  {"data": {"values": [{}]}, "mark": {"type": "text", "text": "NH₄", "align": "center", "baseline": "middle", "fontSize": 14, "font": "Liberation Serif, Noto Sans CJK JP", "color": "#111"},
   "encoding": {"x": {"datum": 3.9}, "y": {"datum": 122}}}
]},
{"width": 138, "height": 137, "layer": [
  {"data": {"name": "soil"}, "transform": [{"filter": "datum.c == 3"}],
   "mark": {"type": "area", "interpolate": "monotone", "color": "#e4e4e4"},
   "encoding": {
     "x": {"field": "wk", "type": "quantitative", "scale": {"domain": [0, 7], "nice": false, "zero": false}, "axis": {"values": [2, 4, 6], "format": "d", "ticks": false, "labelPadding": 5, "labelBaseline": "top", "title": "AM40ppm", "titleFontSize": 14, "titleFontWeight": "normal", "titleX": 78, "titleY": 41, "titleAlign": "center", "titleBaseline": "middle"}},
     "y": {"field": "lo", "type": "quantitative", "scale": {"domain": [0, 690], "nice": false}, "axis": {"labels": false, "ticks": false, "title": null}},
     "y2": {"field": "up"}}},
  {"data": {"name": "xticks"}, "mark": {"type": "rule", "strokeWidth": 2, "color": "#111"},
   "encoding": {"x": {"field": "t", "type": "quantitative"}, "y": {"datum": 0}, "y2": {"datum": 22}}},
  {"data": {"values": [{}]}, "mark": {"type": "rule", "strokeDash": [4, 3], "strokeWidth": 2, "color": "#111"},
   "encoding": {"x": {"datum": 2}, "y": {"datum": 690}, "y2": {"datum": 0}}},
  {"data": {"name": "soil"}, "transform": [{"filter": "datum.c == 3"}],
   "mark": {"type": "line", "interpolate": "monotone", "color": "#111", "strokeWidth": 2.8},
   "encoding": {"x": {"field": "wk", "type": "quantitative"}, "y": {"field": "up", "type": "quantitative"}}},
  {"data": {"name": "soil"}, "transform": [{"filter": "datum.c == 3"}],
   "mark": {"type": "line", "interpolate": "monotone", "color": "#111", "strokeWidth": 2.8},
   "encoding": {"x": {"field": "wk", "type": "quantitative"}, "y": {"field": "lo", "type": "quantitative"}}},
  {"data": {"values": [{}]}, "mark": {"type": "text", "text": "週", "align": "center", "baseline": "middle", "fontSize": 13, "fontWeight": "bold", "font": "Liberation Serif, Noto Sans CJK JP", "color": "#111"},
   "encoding": {"x": {"datum": 6.68}, "y": {"datum": -60}}}
]}
]
}
